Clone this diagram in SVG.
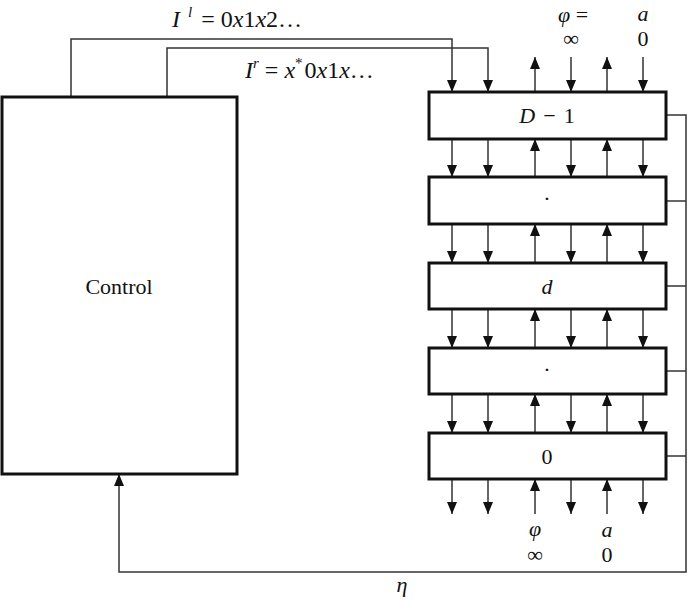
<svg xmlns="http://www.w3.org/2000/svg" width="688" height="600" viewBox="0 0 688 600">
<style>
.box{fill:#fff;stroke:#111;stroke-width:3}
.ln{fill:none;stroke:#333;stroke-width:1.5}
.t{font-family:"Liberation Serif","DejaVu Serif",serif;font-size:22px;fill:#111}
.t.big{font-size:24px}
.i{font-style:italic}
.m{text-anchor:middle}
</style>
<defs>
<marker id="ah" viewBox="0 0 12 12" refX="12" refY="6" markerWidth="12" markerHeight="12" markerUnits="userSpaceOnUse" orient="auto">
<path d="M0,1 L12,6 L0,11 Z" fill="#111"/>
</marker>
</defs>
<g id="connectors">
<path class="ln" d="M71,97 V39 H452 V92" marker-end="url(#ah)"/>
<path class="ln" d="M167,97 V48 H488 V92" marker-end="url(#ah)"/>
<path class="ln" d="M535,92 V57" marker-end="url(#ah)"/>
<path class="ln" d="M571,57 V92" marker-end="url(#ah)"/>
<path class="ln" d="M607,92 V57" marker-end="url(#ah)"/>
<path class="ln" d="M643,57 V92" marker-end="url(#ah)"/>
<g id="between">
<path class="ln" d="M452,139 V177" marker-end="url(#ah)"/>
<path class="ln" d="M488,139 V177" marker-end="url(#ah)"/>
<path class="ln" d="M535,177 V139" marker-end="url(#ah)"/>
<path class="ln" d="M571,139 V177" marker-end="url(#ah)"/>
<path class="ln" d="M607,177 V139" marker-end="url(#ah)"/>
<path class="ln" d="M643,139 V177" marker-end="url(#ah)"/>
<path class="ln" d="M452,224 V263" marker-end="url(#ah)"/>
<path class="ln" d="M488,224 V263" marker-end="url(#ah)"/>
<path class="ln" d="M535,263 V224" marker-end="url(#ah)"/>
<path class="ln" d="M571,224 V263" marker-end="url(#ah)"/>
<path class="ln" d="M607,263 V224" marker-end="url(#ah)"/>
<path class="ln" d="M643,224 V263" marker-end="url(#ah)"/>
<path class="ln" d="M452,309 V348" marker-end="url(#ah)"/>
<path class="ln" d="M488,309 V348" marker-end="url(#ah)"/>
<path class="ln" d="M535,348 V309" marker-end="url(#ah)"/>
<path class="ln" d="M571,309 V348" marker-end="url(#ah)"/>
<path class="ln" d="M607,348 V309" marker-end="url(#ah)"/>
<path class="ln" d="M643,309 V348" marker-end="url(#ah)"/>
<path class="ln" d="M452,394 V433" marker-end="url(#ah)"/>
<path class="ln" d="M488,394 V433" marker-end="url(#ah)"/>
<path class="ln" d="M535,433 V394" marker-end="url(#ah)"/>
<path class="ln" d="M571,394 V433" marker-end="url(#ah)"/>
<path class="ln" d="M607,433 V394" marker-end="url(#ah)"/>
<path class="ln" d="M643,394 V433" marker-end="url(#ah)"/>
<path class="ln" d="M452,479 V514" marker-end="url(#ah)"/>
<path class="ln" d="M488,479 V514" marker-end="url(#ah)"/>
<path class="ln" d="M535,514 V479" marker-end="url(#ah)"/>
<path class="ln" d="M571,479 V514" marker-end="url(#ah)"/>
<path class="ln" d="M607,514 V479" marker-end="url(#ah)"/>
<path class="ln" d="M643,479 V514" marker-end="url(#ah)"/>
</g>
<path class="ln" d="M666,115 H686 V572 H119 V474" marker-end="url(#ah)"/>
<path class="ln" d="M666,201 H686"/>
<path class="ln" d="M666,286 H686"/>
<path class="ln" d="M666,371 H686"/>
<path class="ln" d="M666,456 H686"/>
</g>
<g id="control">
<rect class="box" x="2" y="97" width="235" height="377"/>
<text class="t m" x="119" y="294">Control</text>
</g>
<g id="layerD1">
<rect class="box" x="429" y="92" width="237" height="47"/>
<text class="t m" x="547" y="123"><tspan class="i">D</tspan><tspan dx="8">−</tspan><tspan dx="8">1</tspan></text>
</g>
<g id="layerDot1">
<rect class="box" x="429" y="177" width="237" height="47"/>
<text class="t m" x="547" y="206">·</text>
</g>
<g id="layerd">
<rect class="box" x="429" y="263" width="237" height="46"/>
<text class="t m i" x="547" y="294">d</text>
</g>
<g id="layerDot2">
<rect class="box" x="429" y="348" width="237" height="46"/>
<text class="t m" x="547" y="377">·</text>
</g>
<g id="layer0">
<rect class="box" x="429" y="433" width="237" height="46"/>
<text class="t m" x="547" y="464">0</text>
</g>
<g id="labels">
<text class="t big" x="172" y="27"><tspan class="i">I</tspan><tspan class="i" font-size="15" dx="8" dy="-10">l</tspan><tspan dx="9" dy="10">= 0</tspan><tspan class="i">x</tspan>1<tspan class="i">x</tspan>2…</text>
<text class="t big" x="245" y="78"><tspan class="i">I</tspan><tspan class="i" font-size="15" dy="-10">r</tspan><tspan dy="10"> = </tspan><tspan class="i">x</tspan><tspan font-size="15" dy="-10">*</tspan><tspan dy="10" dx="2">0</tspan><tspan class="i">x</tspan>1<tspan class="i">x</tspan>…</text>
<text class="t m" x="573" y="22"><tspan class="i">φ</tspan> =</text>
<text class="t m" x="571" y="46">∞</text>
<text class="t m i" x="643" y="21">a</text>
<text class="t m" x="643" y="46">0</text>
<text class="t m i" x="535" y="536">φ</text>
<text class="t m" x="535" y="562">∞</text>
<text class="t m i" x="607" y="537">a</text>
<text class="t m" x="607" y="562">0</text>
<text class="t m i" x="402" y="592">η</text>
</g>
</svg>
